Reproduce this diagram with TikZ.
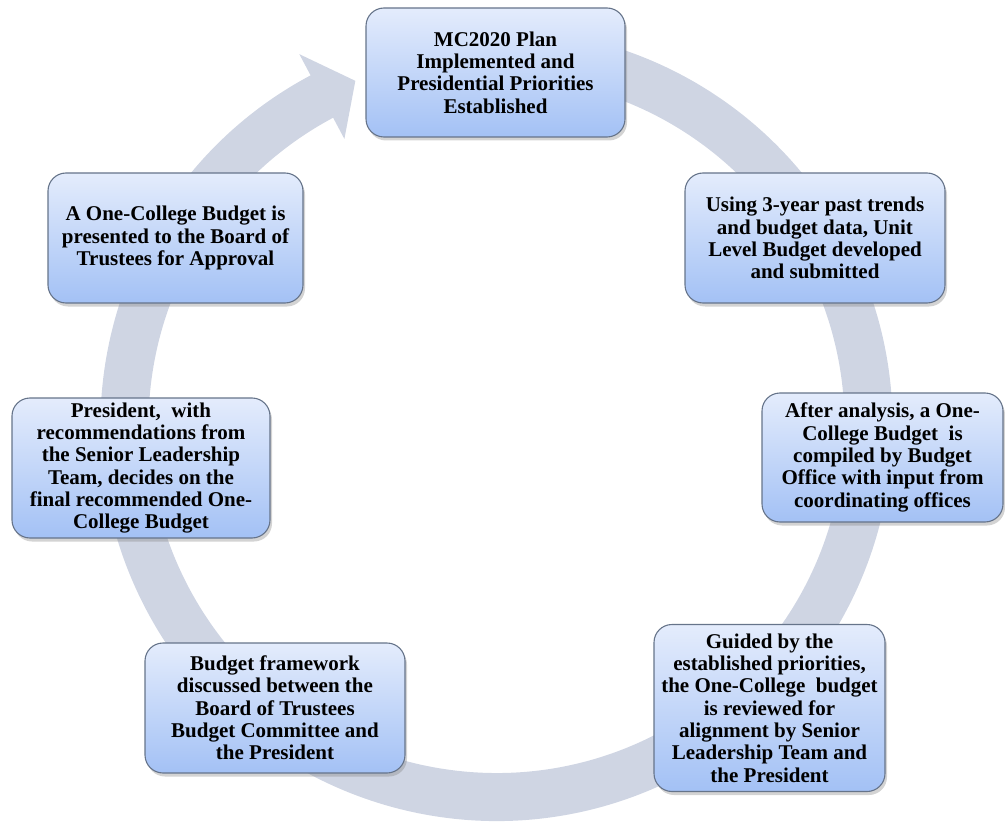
\documentclass[tikz,border=0pt]{standalone}
\usepackage{fontspec}
\setmainfont{Liberation Serif}
\usetikzlibrary{shadows,calc}
\definecolor{ringfill}{HTML}{CFD5E3}
\definecolor{boxtop}{HTML}{E4ECFC}
\definecolor{boxbottom}{HTML}{A3C1F5}
\definecolor{boxedge}{HTML}{66748A}
\begin{document}
\begin{tikzpicture}[x=1pt,y=1pt,
  stage/.style={rectangle, rounded corners=18pt, draw=boxedge, line width=1.1pt,
    top color=boxtop, bottom color=boxbottom, inner sep=0pt, align=center,
    font=\bfseries\fontsize{21}{22.3}\selectfont,
    drop shadow={shadow xshift=2pt, shadow yshift=-3.5pt, opacity=0.35}}]
\useasboundingbox (0,0) rectangle (1005,-824);

% circular arrow running clockwise behind the stages
\coordinate (C) at (496.5,-425);
\fill[ringfill]
  ($(C)+(118:396)$) arc[start angle=118, end angle=442, radius=396]
  -- ($(C)+(442:348)$) arc[start angle=442, end angle=118, radius=348]
  -- ($(C)+(118:324)$) -- ($(C)+(112.3:372)$) -- ($(C)+(118:420)$) -- cycle;

% stages of the budget cycle
\node[stage, minimum width=259pt, minimum height=129pt] (plan) at (495.5,-72.5)
  {MC2020 Plan\\Implemented and\\Presidential Priorities\\Established};
\node[stage, minimum width=260pt, minimum height=130pt] (unit) at (815,-238)
  {Using 3-year past trends\\and budget data, Unit\\Level Budget developed\\and submitted};
\node[stage, minimum width=241pt, minimum height=129pt] (compile) at (882.5,-457.5)
  {After analysis, a One-\\College Budget~ is\\compiled by Budget\\Office with input from\\coordinating offices};
\node[stage, minimum width=231pt, minimum height=167pt] (review) at (769.5,-708)
  {Guided by the\\established priorities,\\the One-College~ budget\\is reviewed for\\alignment by Senior\\Leadership Team and\\the President};
\node[stage, minimum width=260pt, minimum height=130pt] (framework) at (275,-708)
  {Budget framework\\discussed between the\\Board of Trustees\\Budget Committee and\\the President};
\node[stage, minimum width=258pt, minimum height=140pt] (decide) at (141,-468)
  {President,~ with\\recommendations from\\the Senior Leadership\\Team, decides on the\\final recommended One-\\College Budget};
\node[stage, minimum width=255pt, minimum height=130pt] (approve) at (175.5,-238)
  {A One-College Budget is\\presented to the Board of\\Trustees for Approval};
\end{tikzpicture}
\end{document}
